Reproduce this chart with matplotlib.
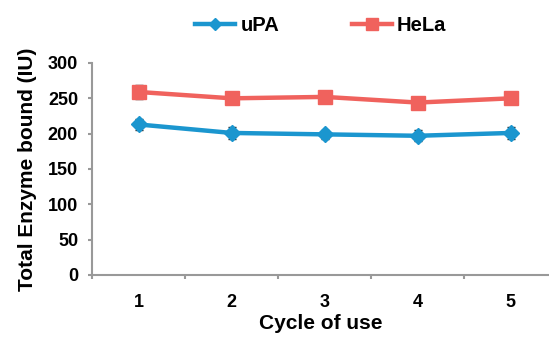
import matplotlib
matplotlib.use("Agg")
import matplotlib.pyplot as plt

cycles = [1, 2, 3, 4, 5]
upa = [213, 201, 199, 197, 201]
upa_err = [8, 8, 6, 8, 8]
hela = [259, 250, 252, 244, 250]
hela_err = [10, 3, 3, 3, 3]

plt.rcParams["font.family"] = ["Liberation Sans", "DejaVu Sans"]
plt.rcParams["font.weight"] = "bold"

fig = plt.figure(figsize=(5.49, 3.39), dpi=100)
ax = fig.add_axes([0.1676, 0.1888, 0.8324, 0.6254])

ax.errorbar(cycles, upa, yerr=upa_err, color="#1b96cf", lw=3.2, marker="D", ms=8,
            ecolor="#222222", elinewidth=1, capsize=3, label="uPA", zorder=3)
ax.errorbar(cycles, hela, yerr=hela_err, color="#f0625d", lw=3.2, marker="s", ms=10,
            ecolor="#222222", elinewidth=1, capsize=3, label="HeLa", zorder=3)

ax.set_xlim(0.5, 5.41)
ax.set_ylim(0, 300)
ax.set_yticks(range(0, 301, 50))
ax.set_xticks(cycles)
ax.set_xticks([c + 0.5 for c in range(0, 5)], minor=True)
ax.tick_params(axis="x", which="major", length=0, pad=14, labelsize=13)
ax.tick_params(axis="x", which="minor", length=3, color="#999999", width=1.5)
ax.tick_params(axis="y", length=3, color="#999999", width=1.5, labelsize=13, pad=7)
for s in ["top", "right"]:
    ax.spines[s].set_visible(False)
for s in ["left", "bottom"]:
    ax.spines[s].set_color("#999999")
    ax.spines[s].set_linewidth(1.5)

ax.set_xlabel("Cycle of use", fontsize=15, fontweight="bold", labelpad=2)
ax.set_ylabel("Total Enzyme bound (IU)", fontsize=15, fontweight="bold", labelpad=8)

handles, labels = ax.get_legend_handles_labels()
handles = [h[0] for h in handles]
fig.legend(handles, labels, loc="center", bbox_to_anchor=(0.584, 0.926), ncol=2,
           frameon=False, fontsize=14.5, handlelength=2.0, columnspacing=3.6,
           handletextpad=0.25, markerscale=0.8)

fig.savefig("out.png", dpi=100)
